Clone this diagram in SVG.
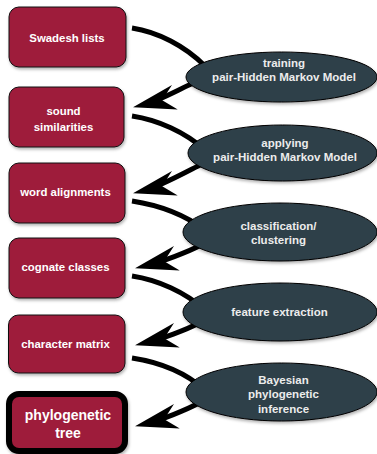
<svg xmlns="http://www.w3.org/2000/svg" width="377" height="454" viewBox="0 0 377 454">
<style>
.box{fill:#9e1a3b;stroke:#111;stroke-width:1;filter:url(#sh)}
.ell{fill:#2f3f49;stroke:#000;stroke-width:1;filter:url(#sh)}
.bt{font-family:"Liberation Sans",Arial,sans-serif;font-weight:bold;font-size:11.4px;fill:#fff;text-anchor:middle}
.et{font-family:"Liberation Sans",Arial,sans-serif;font-weight:bold;font-size:11.5px;fill:#ececec;text-anchor:middle}
.big{font-size:14px}
.con{fill:none;stroke:#000;stroke-width:5}
</style>
<defs>
<filter id="sh" x="-10%" y="-10%" width="125%" height="135%">
<feDropShadow dx="1" dy="2" stdDeviation="1.5" flood-color="#000" flood-opacity="0.3"/>
</filter>
<marker id="ah" markerUnits="userSpaceOnUse" orient="auto" refX="0" refY="0" markerWidth="60" markerHeight="40" viewBox="-45 -20 60 40" overflow="visible">
<path d="M12,0 L-31,-12.5 L-18,0 L-31,12.5 Z" fill="#000"/>
</marker>
</defs>
<g id="connectors">
<path class="con" d="M132,28 C158,32 185,46 205,66"/>
<path class="con" d="M198,81 C185,86 159,101 144.7,104.4" marker-end="url(#ah)"/>
<path class="con" d="M132,116 C158,120 185,132 205,150"/>
<path class="con" d="M202,164 C188,171 159,187 144.7,190.4" marker-end="url(#ah)"/>
<path class="con" d="M132,201 C158,205 185,215 205,230"/>
<path class="con" d="M201,245 C188,252 161,262 146.7,265.4" marker-end="url(#ah)"/>
<path class="con" d="M132,276 C158,280 185,292 205,310"/>
<path class="con" d="M199,323 C186,330 161,339 146.7,342.4" marker-end="url(#ah)"/>
<path class="con" d="M132,358 C158,362 185,372 205,390"/>
<path class="con" d="M199,403 C186,410 161,420 146.7,423.4" marker-end="url(#ah)"/>
</g>
<g id="swadesh">
<rect class="box" x="9" y="7" width="117" height="60" rx="10"/>
<text class="bt" x="67" y="41.5">Swadesh lists</text>
</g>
<g id="sound">
<rect class="box" x="9" y="87" width="115" height="60" rx="10"/>
<text class="bt" x="63.5" y="115">sound</text>
<text class="bt" x="63.5" y="130.5">similarities</text>
</g>
<g id="word">
<rect class="box" x="9" y="163" width="116" height="60" rx="10"/>
<text class="bt" x="65.5" y="196">word alignments</text>
</g>
<g id="cognate">
<rect class="box" x="9" y="238" width="116" height="60" rx="10"/>
<text class="bt" x="65.5" y="270.5">cognate classes</text>
</g>
<g id="character">
<rect class="box" x="8.5" y="315" width="116.5" height="58" rx="10"/>
<text class="bt" x="65.5" y="347.5">character matrix</text>
</g>
<g id="tree">
<rect class="box" x="9" y="394" width="116" height="57" rx="10" style="stroke:#000;stroke-width:6"/>
<text class="bt big" x="68" y="419.5">phylogenetic</text>
<text class="bt big" x="68" y="438">tree</text>
</g>
<g id="training">
<ellipse class="ell" cx="281.5" cy="77" rx="95.5" ry="25"/>
<text class="et" x="284" y="66.5">training</text>
<text class="et" x="284" y="81">pair-Hidden Markov Model</text>
</g>
<g id="applying">
<ellipse class="ell" cx="282.5" cy="153" rx="94.5" ry="28"/>
<text class="et" x="285" y="146.5">applying</text>
<text class="et" x="285" y="161">pair-Hidden Markov Model</text>
</g>
<g id="classification">
<ellipse class="ell" cx="280" cy="232" rx="97" ry="29"/>
<text class="et" x="278.5" y="229.5">classification/</text>
<text class="et" x="278.5" y="243.5">clustering</text>
</g>
<g id="feature">
<ellipse class="ell" cx="280" cy="312" rx="97" ry="29"/>
<text class="et" x="279.5" y="315.5">feature extraction</text>
</g>
<g id="bayesian">
<ellipse class="ell" cx="281.5" cy="392" rx="95.5" ry="29"/>
<text class="et" x="283.5" y="384">Bayesian</text>
<text class="et" x="283.5" y="398.3">phylogenetic</text>
<text class="et" x="283.5" y="412.5">inference</text>
</g>
</svg>
